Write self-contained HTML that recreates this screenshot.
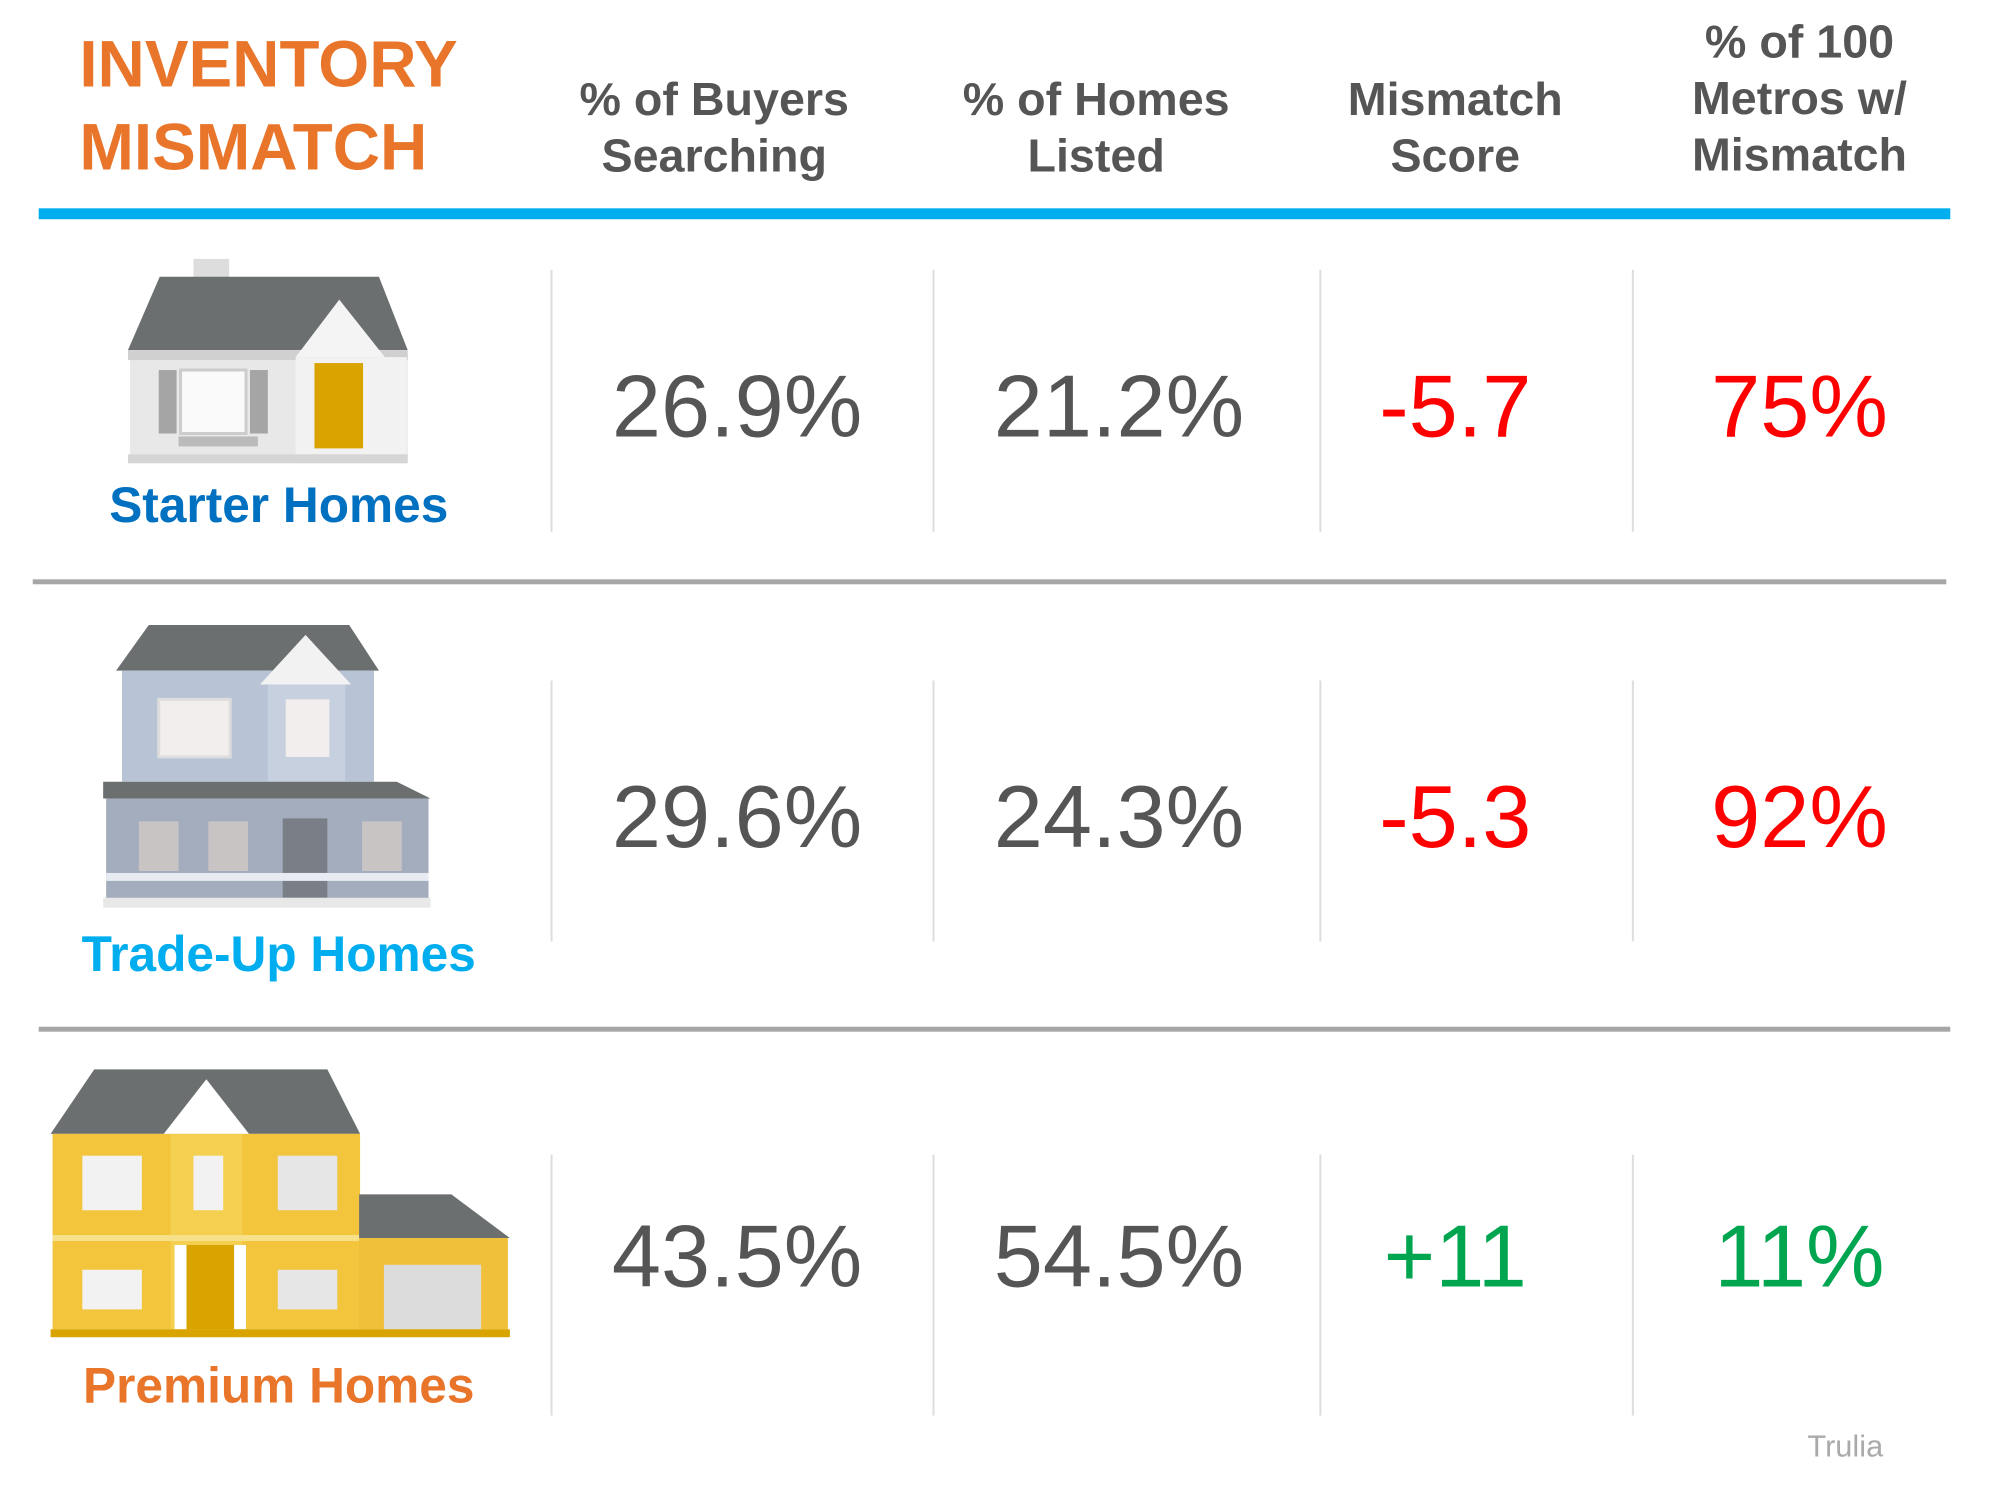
<!DOCTYPE html>
<html><head><meta charset="utf-8">
<style>
body{margin:0;width:2000px;height:1500px;background:#fff;position:relative;overflow:hidden;font-family:"Liberation Sans",Arial,sans-serif}
#wrap{position:absolute;left:0;top:0;width:2000px;height:1500px;transform:scale(0.992);transform-origin:0 0}
.a{position:absolute}
.t{color:#E8752A;font-weight:bold;font-size:66px;line-height:84px;left:80px;top:22px}
.h{color:#555;font-weight:bold;font-size:47px;line-height:57px;text-align:center;width:380px;margin-left:-190px}
.v{font-size:89px;line-height:100px;text-align:center;width:360px;margin-left:-180px;color:#555}
.vl{width:2px;background:#ddd}
.lab{font-weight:bold;font-size:50px;text-align:center;width:500px;margin-left:-250px;line-height:56px}
</style></head><body>
<div id="wrap">
<div class="a t">INVENTORY<br>MISMATCH</div>
<div class="a h" style="left:720px;top:71px">% of Buyers<br>Searching</div>
<div class="a h" style="left:1105px;top:71px">% of Homes<br>Listed</div>
<div class="a h" style="left:1467px;top:71px">Mismatch<br>Score</div>
<div class="a h" style="left:1814px;top:13px">% of 100<br>Metros w/<br>Mismatch</div>
<div class="a" style="left:39px;top:210px;width:1927px;height:11px;background:#00AEEF"></div>
<div class="a" style="left:33px;top:584px;width:1929px;height:5px;background:#a6a6a6"></div>
<div class="a" style="left:39px;top:1035px;width:1927px;height:5px;background:#a6a6a6"></div>

<div class="a vl" style="left:555px;top:272px;height:264px"></div>
<div class="a vl" style="left:940px;top:272px;height:264px"></div>
<div class="a vl" style="left:1330px;top:272px;height:264px"></div>
<div class="a vl" style="left:1645px;top:272px;height:264px"></div>
<div class="a vl" style="left:555px;top:686px;height:263px"></div>
<div class="a vl" style="left:940px;top:686px;height:263px"></div>
<div class="a vl" style="left:1330px;top:686px;height:263px"></div>
<div class="a vl" style="left:1645px;top:686px;height:263px"></div>
<div class="a vl" style="left:555px;top:1164px;height:263px"></div>
<div class="a vl" style="left:940px;top:1164px;height:263px"></div>
<div class="a vl" style="left:1330px;top:1164px;height:263px"></div>
<div class="a vl" style="left:1645px;top:1164px;height:263px"></div>

<div class="a v" style="left:743px;top:359px">26.9%</div>
<div class="a v" style="left:1128px;top:359px">21.2%</div>
<div class="a v" style="left:1467px;top:359px;color:#F00">-5.7</div>
<div class="a v" style="left:1814px;top:359px;color:#F00">75%</div>
<div class="a v" style="left:743px;top:773px">29.6%</div>
<div class="a v" style="left:1128px;top:773px">24.3%</div>
<div class="a v" style="left:1467px;top:773px;color:#F00">-5.3</div>
<div class="a v" style="left:1814px;top:773px;color:#F00">92%</div>
<div class="a v" style="left:743px;top:1216px">43.5%</div>
<div class="a v" style="left:1128px;top:1216px">54.5%</div>
<div class="a v" style="left:1467px;top:1216px;color:#00A550">+11</div>
<div class="a v" style="left:1814px;top:1216px;color:#00A550">11%</div>

<div class="a lab" style="left:281px;top:481px;color:#0070C0">Starter Homes</div>
<div class="a lab" style="left:281px;top:934px;color:#00AEEF">Trade-Up Homes</div>
<div class="a lab" style="left:281px;top:1369px;color:#E8752A">Premium Homes</div>
<div class="a" style="left:1822px;top:1440px;font-size:31px;color:#aaa">Trulia</div>

<svg class="a" style="left:0;top:0" width="2000" height="1500">
 <g>
  <rect x="195" y="261" width="36" height="20" fill="#ddd"/>
  <polygon points="161,279 382,279 411,353 129,353" fill="#6b6f70"/>
  <rect x="131" y="353" width="280" height="114" fill="#e8e8e8"/>
  <rect x="129" y="353" width="282" height="10" fill="#d0d0d0"/>
  <polygon points="342,302 298,360 388,360" fill="#f4f4f4"/>
  <rect x="298" y="360" width="112" height="107" fill="#f2f2f2"/>
  <rect x="317" y="366" width="49" height="86" fill="#d9a400"/>
  <rect x="160" y="373" width="18" height="64" fill="#a5a5a5"/>
  <rect x="252" y="373" width="18" height="64" fill="#a5a5a5"/>
  <rect x="182" y="373" width="66" height="64" fill="#fafafa" stroke="#ccc" stroke-width="3"/>
  <rect x="180" y="440" width="80" height="10" fill="#bbb"/>
  <rect x="129" y="458" width="282" height="9" fill="#d5d5d5"/>
 </g>
 <g>
  <polygon points="150,630 352,630 382,676 117,676" fill="#6b6f70"/>
  <rect x="123" y="676" width="254" height="112" fill="#b8c4d6"/>
  <polygon points="308,640 262,690 354,690" fill="#f2f2f2"/>
  <rect x="270" y="690" width="78" height="98" fill="#c6d0df"/>
  <rect x="160" y="705" width="72" height="58" fill="#f3eeee" stroke="#ddd" stroke-width="3"/>
  <rect x="288" y="705" width="44" height="58" fill="#f3eeee"/>
  <polygon points="104,788 400,788 434,805 104,805" fill="#6b6f70"/>
  <rect x="107" y="805" width="325" height="107" fill="#a3adbd"/>
  <rect x="140" y="828" width="40" height="50" fill="#c9c4c4"/>
  <rect x="210" y="828" width="40" height="50" fill="#c9c4c4"/>
  <rect x="285" y="825" width="45" height="80" fill="#7a7f87"/>
  <rect x="365" y="828" width="40" height="50" fill="#c9c4c4"/>
  <rect x="107" y="880" width="325" height="8" fill="#e8ecf2"/>
  <rect x="104" y="905" width="330" height="10" fill="#e8e8e8"/>
 </g>
 <g>
  <polygon points="95,1078 330,1078 363,1143 51,1143" fill="#6b6f70"/>
  <rect x="53" y="1143" width="310" height="197" fill="#f2c53d"/>
  <polygon points="208,1088 165,1143 251,1143" fill="#fff"/>
  <rect x="172" y="1143" width="72" height="197" fill="#f5cf50"/>
  <rect x="83" y="1165" width="60" height="55" fill="#f2f2f2"/>
  <rect x="195" y="1165" width="30" height="55" fill="#f2f2f2"/>
  <rect x="280" y="1165" width="60" height="55" fill="#e6e6e6"/>
  <rect x="53" y="1245" width="310" height="6" fill="#f7e08a"/>
  <rect x="83" y="1280" width="60" height="40" fill="#f2f2f2"/>
  <rect x="280" y="1280" width="60" height="40" fill="#e6e6e6"/>
  <rect x="188" y="1255" width="48" height="85" fill="#d9a400"/>
  <rect x="176" y="1255" width="12" height="85" fill="#fff"/>
  <rect x="236" y="1255" width="12" height="85" fill="#fff"/>
  <polygon points="362,1204 455,1204 514,1248 362,1248" fill="#6b6f70"/>
  <rect x="362" y="1248" width="150" height="92" fill="#f0c03a"/>
  <rect x="387" y="1275" width="98" height="65" fill="#dcdcdc"/>
  <rect x="51" y="1340" width="463" height="8" fill="#d9a300"/>
 </g>
</svg>
</div>
</body></html>
